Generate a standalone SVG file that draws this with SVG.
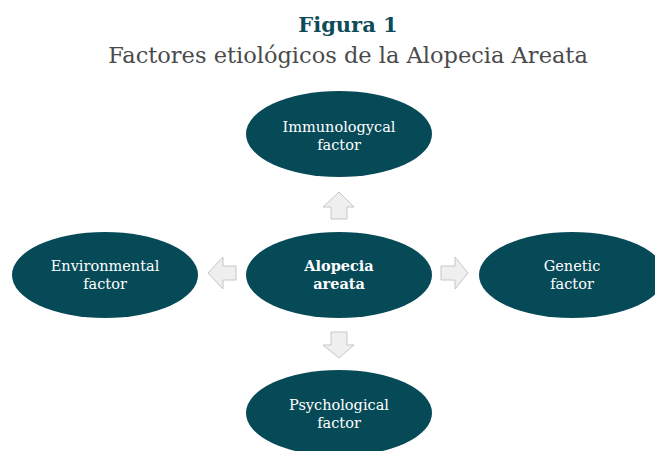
<svg xmlns="http://www.w3.org/2000/svg" width="655" height="451" viewBox="0 0 655 451">
<style>
.t1{font-family:"DejaVu Serif","Liberation Serif",serif;font-weight:bold;font-size:21px;fill:#0d4b5b;text-anchor:middle}
.t2{font-family:"DejaVu Serif","Liberation Serif",serif;font-size:22.5px;fill:#4a4a4a;text-anchor:middle}
.node{fill:#064a58}
.lbl{font-family:"DejaVu Serif","Liberation Serif",serif;font-size:14.5px;fill:#ffffff;text-anchor:middle}
.b{font-weight:bold}
.arr{fill:#efefef;stroke:#c6c6c6;stroke-width:1}
</style>
<rect width="655" height="451" fill="#ffffff"/>
<text class="t1" x="348" y="32">Figura 1</text>
<text class="t2" x="348" y="63">Factores etiológicos de la Alopecia Areata</text>
<g id="connectors">
<polygon class="arr" points="339,192 354,207 347,207 347,219 331,219 331,207 323,207"/>
<polygon class="arr" points="339,358 354,345 347,345 347,332 331,332 331,345 323,345"/>
<polygon class="arr" points="208,273 223,257 223,266 236,266 236,280 223,280 223,289"/>
<polygon class="arr" points="468,273 455,257 455,266 441,266 441,280 455,280 455,289"/>
</g>
<g id="immuno">
<ellipse class="node" cx="339" cy="134" rx="93" ry="43"/>
<text class="lbl" x="339" y="132">Immunologycal</text>
<text class="lbl" x="339" y="150">factor</text>
</g>
<g id="alopecia">
<ellipse class="node" cx="339" cy="275" rx="93" ry="43"/>
<text class="lbl b" x="339" y="271">Alopecia</text>
<text class="lbl b" x="339" y="289">areata</text>
</g>
<g id="environmental">
<ellipse class="node" cx="105" cy="275" rx="93" ry="43"/>
<text class="lbl" x="105" y="271">Environmental</text>
<text class="lbl" x="105" y="289">factor</text>
</g>
<g id="genetic">
<ellipse class="node" cx="572" cy="275" rx="93" ry="43"/>
<text class="lbl" x="572" y="271">Genetic</text>
<text class="lbl" x="572" y="289">factor</text>
</g>
<g id="psychological">
<ellipse class="node" cx="339" cy="413" rx="93" ry="43"/>
<text class="lbl" x="339" y="410">Psychological</text>
<text class="lbl" x="339" y="428">factor</text>
</g>
</svg>
